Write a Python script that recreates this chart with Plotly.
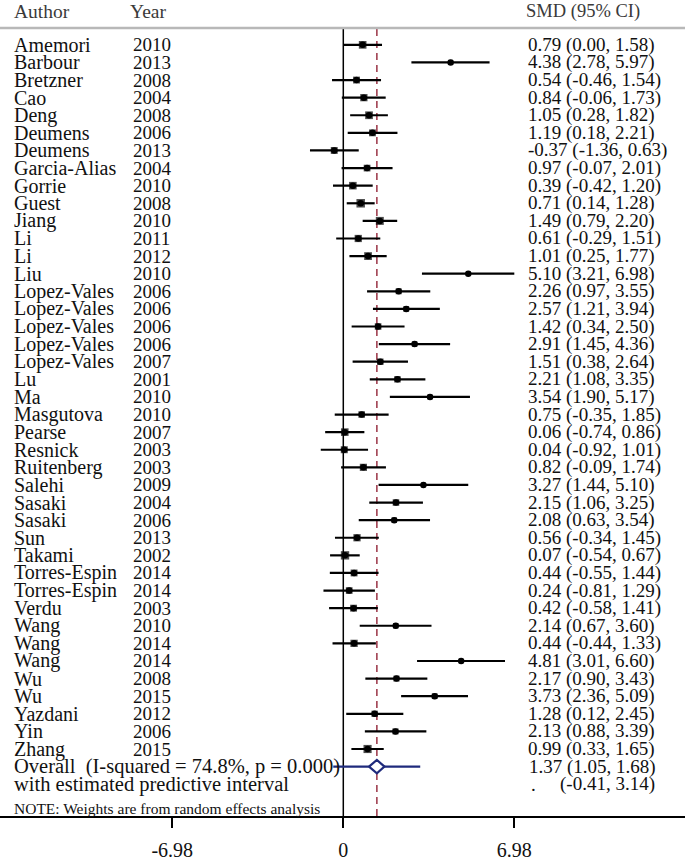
import plotly.graph_objects as go
import numpy as np

# ---------------- data ----------------
authors = ["Amemori", "Barbour", "Bretzner", "Cao", "Deng", "Deumens", "Deumens",
           "Garcia-Alias", "Gorrie", "Guest", "Jiang", "Li", "Li", "Liu",
           "Lopez-Vales", "Lopez-Vales", "Lopez-Vales", "Lopez-Vales", "Lopez-Vales",
           "Lu", "Ma", "Masgutova", "Pearse", "Resnick", "Ruitenberg", "Salehi",
           "Sasaki", "Sasaki", "Sun", "Takami", "Torres-Espin", "Torres-Espin",
           "Verdu", "Wang", "Wang", "Wang", "Wu", "Wu", "Yazdani", "Yin", "Zhang"]
years = [2010, 2013, 2008, 2004, 2008, 2006, 2013, 2004, 2010, 2008, 2010, 2011, 2012,
         2010, 2006, 2006, 2006, 2006, 2007, 2001, 2010, 2010, 2007, 2003, 2003, 2009,
         2004, 2006, 2013, 2002, 2014, 2014, 2003, 2010, 2014, 2014, 2008, 2015, 2012,
         2006, 2015]
smd = [0.79, 4.38, 0.54, 0.84, 1.05, 1.19, -0.37, 0.97, 0.39, 0.71, 1.49, 0.61, 1.01,
       5.10, 2.26, 2.57, 1.42, 2.91, 1.51, 2.21, 3.54, 0.75, 0.06, 0.04, 0.82, 3.27,
       2.15, 2.08, 0.56, 0.07, 0.44, 0.24, 0.42, 2.14, 0.44, 4.81, 2.17, 3.73, 1.28,
       2.13, 0.99]
ci_low = [0.00, 2.78, -0.46, -0.06, 0.28, 0.18, -1.36, -0.07, -0.42, 0.14, 0.79, -0.29,
          0.25, 3.21, 0.97, 1.21, 0.34, 1.45, 0.38, 1.08, 1.90, -0.35, -0.74, -0.92,
          -0.09, 1.44, 1.06, 0.63, -0.34, -0.54, -0.55, -0.81, -0.58, 0.67, -0.44,
          3.01, 0.90, 2.36, 0.12, 0.88, 0.33]
ci_high = [1.58, 5.97, 1.54, 1.73, 1.82, 2.21, 0.63, 2.01, 1.20, 1.28, 2.20, 1.51, 1.77,
           6.98, 3.55, 3.94, 2.50, 4.36, 2.64, 3.35, 5.17, 1.85, 0.86, 1.01, 1.74, 5.10,
           3.25, 3.54, 1.45, 0.67, 1.44, 1.29, 1.41, 3.60, 1.33, 6.60, 3.43, 5.09, 2.45,
           3.39, 1.65]
overall_smd = 1.37
overall_low = 1.05
overall_high = 1.68
pred_low = -0.41
pred_high = 3.14
i_squared = "74.8%"
p_value = "0.000"
tick_vals = [-6.98, 0, 6.98]
tick_text = ["-6.98", "0", "6.98"]

# ---------------- layout constants ----------------
W, H = 685, 861
TOP, BOT = 28, 823            # plot area top / bottom (px)
ROW0, ROWH = 45, 17.76        # first row centre, row pitch (px)
ZERO_PX, PX_PER_UNIT = 343.3, 24.5

def row_val(px):
    return (px - ROW0) / ROWH

def paper_y(px):
    return (BOT - px) / (BOT - TOP)

n = len(authors)
rows = np.arange(n)
overall_row = n
pred_row = n + 1

smd_a = np.array(smd)
lo_a = np.array(ci_low)
hi_a = np.array(ci_high)

# box sizes from random-effects weights (as in metan)
se = (hi_a - lo_a) / 3.92
w = 1.0 / (se ** 2 + 0.25)
box = 8.5 * np.sqrt(w / w.max())

FONT = "Liberation Serif"
NAVY = "#1f2a7c"
INK = "#111111"

fig = go.Figure()

fig.add_trace(go.Scatter(
    x=smd_a, y=rows, mode="markers",
    marker=dict(symbol="square", size=box, color="black", line=dict(width=0)),
    error_x=dict(type="data", symmetric=False, array=hi_a - smd_a,
                 arrayminus=smd_a - lo_a, color="black", thickness=2.2, width=0),
    hoverinfo="skip", showlegend=False))
fig.add_trace(go.Scatter(
    x=smd_a, y=rows, mode="markers",
    marker=dict(symbol="circle", size=6.5, color="black"),
    hoverinfo="skip", showlegend=False))

fig.add_trace(go.Scatter(
    x=[pred_low, pred_high], y=[overall_row, overall_row], mode="lines",
    line=dict(color=NAVY, width=2.2), hoverinfo="skip", showlegend=False))
h = 0.38
fig.add_trace(go.Scatter(
    x=[overall_low, overall_smd, overall_high, overall_smd, overall_low],
    y=[overall_row, overall_row - h, overall_row, overall_row + h, overall_row],
    mode="lines", fill="toself", fillcolor="white",
    line=dict(color=NAVY, width=2.2), hoverinfo="skip", showlegend=False))

shapes = [
    dict(type="line", xref="x", yref="paper", x0=0, x1=0, y0=0, y1=1,
         line=dict(color="black", width=1.5), layer="below"),
    dict(type="line", xref="x", yref="paper", x0=overall_smd, x1=overall_smd, y0=0, y1=1,
         line=dict(color="#9a3345", width=1.5, dash="7px,5px"), layer="below"),
    dict(type="line", xref="paper", yref="paper", x0=0, x1=1, y0=1, y1=1,
         line=dict(color="#b8b8b8", width=2.5)),
]

ann = []
def txt(xpx, y, s, size=19, color=INK, anchor="left", yref="y"):
    ann.append(dict(x=xpx / W, xref="paper", y=y, yref=yref, text=s, showarrow=False,
                    xanchor=anchor, yanchor="middle",
                    font=dict(family=FONT, size=size, color=color)))

# header
hy = paper_y(11)
txt(12, hy, "Author", size=19.5, color="#3a3a3a", yref="paper")
txt(128, hy, "Year", size=19.5, color="#3a3a3a", yref="paper")
txt(524, hy, "SMD (95% CI)", size=18.5, color="#3a3a3a", yref="paper")

for i in range(n):
    txt(12, i, authors[i], size=20)
    txt(131, i, str(years[i]))
    txt(526, i, f"{smd[i]:.2f} ({ci_low[i]:.2f}, {ci_high[i]:.2f})")

txt(12, overall_row, f"Overall  (I-squared = {i_squared}, p = {p_value})", size=20.5)
txt(527, overall_row, f"{overall_smd:.2f} ({overall_low:.2f}, {overall_high:.2f})")
txt(12, pred_row, "with estimated predictive interval", size=20.5)
txt(529, pred_row, ".")
txt(657, pred_row, f"({pred_low:.2f}, {pred_high:.2f})", anchor="right")
txt(12, row_val(815), "NOTE: Weights are from random effects analysis", size=15.5)

fig.update_layout(
    width=W, height=H,
    margin=dict(l=0, r=0, t=TOP, b=H - BOT, pad=0),
    paper_bgcolor="white", plot_bgcolor="white",
    shapes=shapes, annotations=ann, showlegend=False,
    xaxis=dict(range=[-ZERO_PX / PX_PER_UNIT, (W - ZERO_PX) / PX_PER_UNIT],
               showgrid=False, zeroline=False, showline=True, linecolor="black",
               linewidth=1.5, ticks="outside", ticklen=10, tickwidth=1.5,
               tickcolor="black", tickvals=tick_vals, ticktext=tick_text,
               tickfont=dict(family=FONT, size=20, color=INK),
               ticklabelstandoff=5, fixedrange=True),
    yaxis=dict(range=[row_val(BOT), row_val(TOP)], visible=False, showgrid=False,
               zeroline=False, fixedrange=True),
)

fig.write_html("out.html",
               post_script="document.body.style.margin='0';document.body.style.overflow='hidden';",
               config={"displayModeBar": False})
